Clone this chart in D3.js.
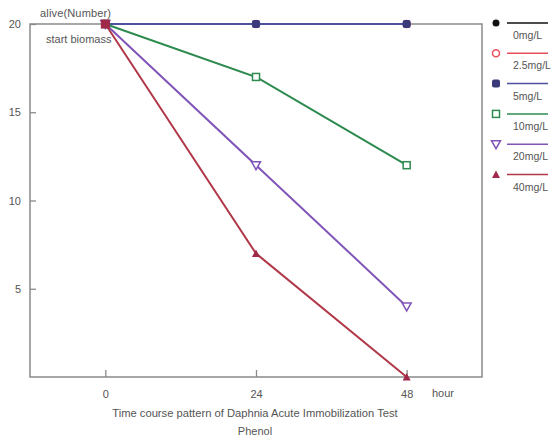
<!DOCTYPE html>
<html><head><meta charset="utf-8">
<script src="https://cdn.jsdelivr.net/npm/d3@7"></script>
<style>body{margin:0;background:#fff}text{font-family:"Liberation Sans",Arial,sans-serif}</style>
</head><body><svg id="c" width="558" height="438"></svg>
<script>
const hours = [0, 24, 48];
const seriesNames = ["0mg/L", "2.5mg/L", "5mg/L", "10mg/L", "20mg/L", "40mg/L"];
const v0 = [20, 20, 20];
const v25 = [20, 20, 20];
const v5 = [20, 20, 20];
const v10 = [20, 17, 12];
const v20 = [20, 12, 4];
const v40 = [20, 7, 0];
const yTicks = [5, 10, 15, 20];
const xTicks = [0, 24, 48];
const colors = ["#111111", "#e8505a", "#5050a0", "#2e8b50", "#8055b8", "#b03848"];
const markerColors = ["#111111", "#e8505a", "#3a3a7a", "#2e8b50", "#8055b8", "#a02848"];
const symbols = ["circleFill", "circleOpen", "squareFill", "squareOpen", "triDownOpen", "triUpFill"];
const series = [v0, v25, v5, v10, v20, v40];

const svg = d3.select("#c");
const x = d3.scaleLinear().domain([-12, 60]).range([30, 482]);
const y = d3.scaleLinear().domain([0, 20]).range([377, 24]);
const axisColor = "#8a8a8a", textColor = "#555";

svg.append("rect").attr("x", x(-12)).attr("y", y(20)).attr("width", x(60) - x(-12)).attr("height", y(0) - y(20))
  .attr("fill", "none").attr("stroke", axisColor).attr("stroke-width", 1.5);

const yAxis = d3.axisLeft(y).tickValues(yTicks).tickSize(-6).tickPadding(9).tickFormat(d3.format("d"));
const gy = svg.append("g").attr("transform", `translate(${x(-12)},0)`).call(yAxis);
const xAxis = d3.axisBottom(x).tickValues(xTicks).tickSize(-7).tickPadding(13).tickFormat(d3.format("d"));
const gx = svg.append("g").attr("transform", `translate(0,${y(0)})`).call(xAxis);
[gy, gx].forEach(g => {
  g.select(".domain").remove();
  g.selectAll(".tick line").attr("stroke", axisColor).attr("stroke-width", 1.3);
  g.selectAll(".tick text").attr("fill", textColor).attr("font-size", 11);
});

svg.append("text").attr("x", 432).attr("y", 397).attr("fill", textColor).attr("font-size", 11).text("hour");
svg.append("text").attr("x", 40).attr("y", 17).attr("fill", textColor).attr("font-size", 11).attr("textLength", 71).text("alive(Number)");
svg.append("text").attr("x", 46).attr("y", 43).attr("fill", textColor).attr("font-size", 11).text("start biomass");
svg.append("text").attr("x", 255).attr("y", 417).attr("text-anchor", "middle").attr("fill", textColor).attr("font-size", 11.2)
  .text("Time course pattern of Daphnia Acute Immobilization Test");
svg.append("text").attr("x", 255).attr("y", 435).attr("text-anchor", "middle").attr("fill", textColor).attr("font-size", 11).text("Phenol");

function drawMarker(g, kind, cx, cy, color) {
  if (kind === "circleFill") g.append("circle").attr("cx", cx).attr("cy", cy).attr("r", 3.5).attr("fill", color);
  else if (kind === "circleOpen") g.append("circle").attr("cx", cx).attr("cy", cy).attr("r", 3.5).attr("fill", "#fff").attr("stroke", color).attr("stroke-width", 1.5);
  else if (kind === "squareFill") g.append("rect").attr("x", cx - 4).attr("y", cy - 4).attr("width", 8).attr("height", 8).attr("rx", 2).attr("fill", color);
  else if (kind === "squareOpen") g.append("rect").attr("x", cx - 3.5).attr("y", cy - 3.5).attr("width", 7).attr("height", 7).attr("fill", "#fff").attr("stroke", color).attr("stroke-width", 1.5);
  else if (kind === "triDownOpen") g.append("path").attr("d", `M${cx - 4.5},${cy - 3.5}L${cx + 4.5},${cy - 3.5}L${cx},${cy + 4.5}Z`).attr("fill", "#fff").attr("stroke", color).attr("stroke-width", 1.5);
  else if (kind === "triUpFill") g.append("path").attr("d", `M${cx - 4},${cy + 3.5}L${cx + 4},${cy + 3.5}L${cx},${cy - 4}Z`).attr("fill", color);
}

const line = d3.line().x((d, i) => x(hours[i])).y(d => y(d));
series.forEach((vals, si) => {
  const g = svg.append("g");
  g.append("path").attr("d", line(vals)).attr("fill", "none").attr("stroke", colors[si]).attr("stroke-width", 2);
  vals.forEach((v, i) => drawMarker(g, symbols[si], x(hours[i]), y(v), markerColors[si]));
});
// overlapping start point appears as a dark red block
svg.append("rect").attr("x", x(hours[0]) - 4.5).attr("y", y(v40[0]) - 4.5).attr("width", 9).attr("height", 9).attr("fill", "#a02848");

const leg = svg.append("g");
seriesNames.forEach((name, i) => {
  const ly = 23 + i * 30.3;
  drawMarker(leg, symbols[i], 496, ly, markerColors[i]);
  leg.append("line").attr("x1", 507).attr("x2", 548).attr("y1", ly).attr("y2", ly).attr("stroke", colors[i]).attr("stroke-width", 1.5);
  leg.append("text").attr("x", 513).attr("y", ly + 16).attr("fill", textColor).attr("font-size", 10.5).text(name);
});
</script></body></html>
